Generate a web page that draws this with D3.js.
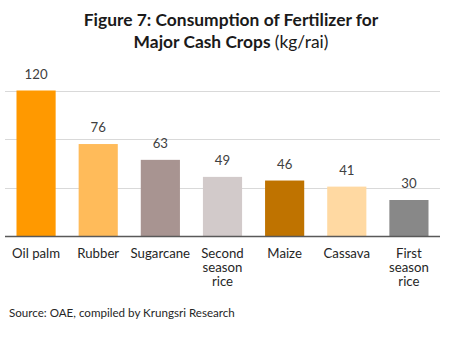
<!DOCTYPE html>
<html><head><meta charset="utf-8">
<script src="https://cdn.jsdelivr.net/npm/d3@7"></script>
<style>body{margin:0;background:#fff}svg{display:block}</style>
</head><body>
<script>
const categories = ["Oil palm","Rubber","Sugarcane","Second season rice","Maize","Cassava","First season rice"];
const categoryLines = [["Oil palm"],["Rubber"],["Sugarcane"],["Second","season","rice"],["Maize"],["Cassava"],["First","season","rice"]];
const values = [120,76,63,49,46,41,30];
const colors = ["#FF9900","#FFBB5A","#A89491","#D2CACA","#BF7300","#FFD9A2","#888888"];
const gridTicks = [40,80,120];

const W=463,H=351;
const svg=d3.select("body").append("svg").attr("width",W).attr("height",H);
const font="Lato, 'Open Sans', sans-serif";

svg.append("text").attr("x",231).attr("y",26).attr("text-anchor","middle")
  .attr("font-family",font).attr("font-weight","bold").attr("font-size",17.4).attr("fill","#1a1a1a")
  .text("Figure 7: Consumption of Fertilizer for");
const t2=svg.append("text").attr("x",231).attr("y",48).attr("text-anchor","middle")
  .attr("font-family",font).attr("font-size",17.4).attr("fill","#1a1a1a");
t2.append("tspan").attr("font-weight","bold").text("Major Cash Crops ");
t2.append("tspan").text("(kg/rai)");

const x=d3.scaleBand().domain(categories).range([5,440]).paddingInner(0.37).paddingOuter(0.185);
const y=d3.scaleLinear().domain([0,120]).range([236.5,90.5]);

svg.append("g").selectAll("line").data(gridTicks).join("line")
  .attr("x1",5).attr("x2",440).attr("y1",d=>Math.round(y(d))+0.5).attr("y2",d=>Math.round(y(d))+0.5)
  .attr("stroke","#d9d9d9").attr("stroke-width",1);

svg.append("g").selectAll("rect").data(values).join("rect")
  .attr("x",(d,i)=>x(categories[i])).attr("width",x.bandwidth())
  .attr("y",d=>y(d)).attr("height",d=>y(0)-y(d))
  .attr("fill",(d,i)=>colors[i]);

svg.append("line").attr("x1",5).attr("x2",440).attr("y1",y(0)).attr("y2",y(0))
  .attr("stroke","#595959").attr("stroke-width",1.3);

svg.append("g").selectAll("text").data(values).join("text")
  .attr("x",(d,i)=>x(categories[i])+x.bandwidth()/2).attr("y",d=>y(d)-12)
  .attr("text-anchor","middle").attr("font-family",font).attr("font-size",13.2).attr("fill","#404040")
  .text(d=>d);

const labData=[];
categories.forEach((c,i)=>categoryLines[i].forEach((s,j)=>labData.push({c,s,j})));
svg.append("g").selectAll("text").data(labData).join("text")
  .attr("x",d=>x(d.c)+x.bandwidth()/2).attr("y",d=>258+d.j*14)
  .attr("text-anchor","middle").attr("font-family",font).attr("font-size",13.2).attr("fill","#262626")
  .text(d=>d.s);

svg.append("text").attr("x",9).attr("y",317).attr("font-family",font).attr("font-size",11.6)
  .attr("fill","#262626").text("Source: OAE, compiled by Krungsri Research");
</script>
</body></html>
